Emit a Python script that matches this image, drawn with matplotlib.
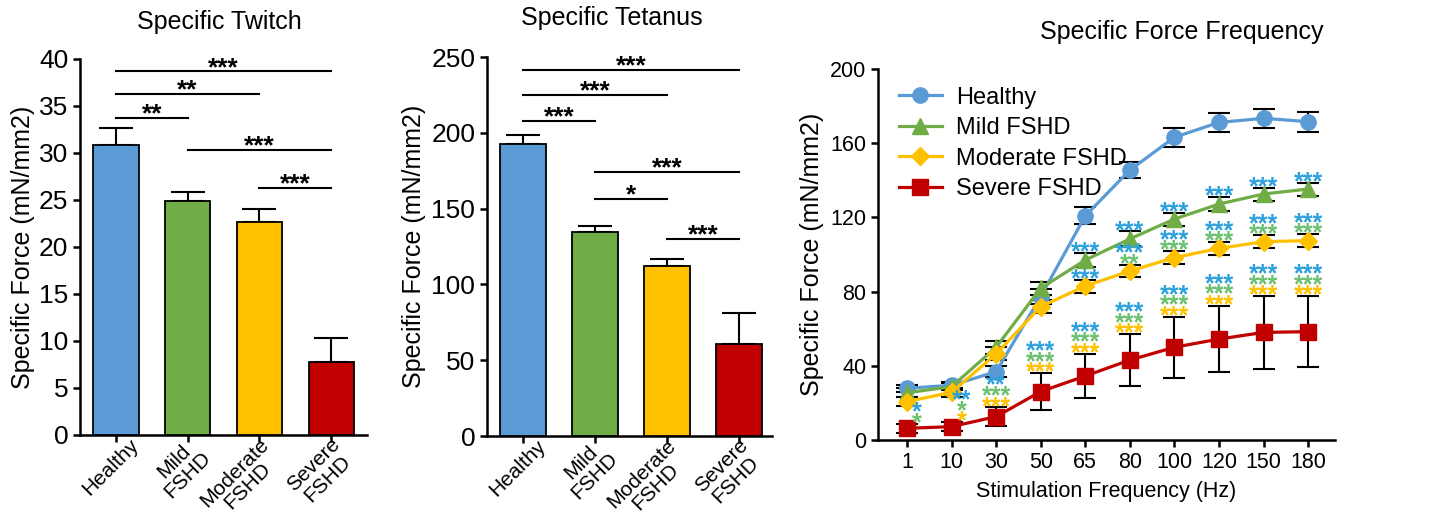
import numpy as np
import matplotlib.pyplot as plt

plt.rcParams['font.family'] = ['Liberation Sans', 'DejaVu Sans']

# --- data ---
groups = ['Healthy', 'Mild\nFSHD', 'Moderate\nFSHD', 'Severe\nFSHD']
colors = ['#5b9bd5', '#70ad47', '#ffc000', '#c00000']

twitch = [30.8, 24.9, 22.7, 7.8]
twitch_err = [1.9, 1.0, 1.3, 2.5]
twitch_pairs = [(0, 3), (0, 2), (0, 1), (1, 3), (2, 3)]
twitch_sig = ['***', '**', '**', '***', '***']

tetanus = [192.5, 134.8, 112.3, 60.8]
tetanus_err = [6.2, 4.0, 4.4, 20.2]
tetanus_pairs = [(0, 3), (0, 2), (0, 1), (1, 3), (1, 2), (2, 3)]
tetanus_sig = ['***', '***', '***', '***', '*', '***']

freqs = ['1', '10', '30', '50', '65', '80', '100', '120', '150', '180']
series_names = ['Healthy', 'Mild FSHD', 'Moderate FSHD', 'Severe FSHD']
healthy = [27.9, 29.5, 36.8, 77.3, 120.8, 145.5, 163.2, 171.2, 173.4, 171.6]
healthy_err = [2.0, 2.0, 3.0, 4.0, 4.6, 4.2, 5.0, 5.0, 5.2, 5.4]
mild = [25.5, 28.7, 50.0, 81.8, 97.0, 108.4, 119.1, 127.2, 132.6, 135.3]
mild_err = [2.5, 2.0, 3.5, 3.5, 4.0, 4.0, 3.5, 3.8, 3.5, 3.5]
moderate = [20.7, 25.7, 46.4, 71.9, 83.0, 91.1, 98.3, 103.3, 106.9, 107.5]
moderate_err = [2.5, 2.5, 3.5, 3.5, 3.5, 3.5, 3.5, 3.5, 3.5, 3.5]
severe = [6.3, 7.2, 12.6, 26.1, 34.5, 43.1, 50.0, 54.4, 58.0, 58.4]
severe_err = [2.5, 2.5, 5.0, 10.0, 12.0, 14.0, 16.5, 18.0, 19.5, 19.2]

# significance vs Healthy / Mild / Moderate
mild_sig = {'Healthy': ['', '', '', '', '***', '***', '***', '***', '***', '***']}
moderate_sig = {'Healthy': ['', '', '', '', '***', '***', '***', '***', '***', '***'],
                'Mild': ['', '', '', '', '', '**', '***', '***', '***', '***']}
severe_sig = {'Healthy': ['*', '**', '**', '***', '***', '***', '***', '***', '***', '***'],
              'Mild': ['*', '*', '***', '***', '***', '***', '***', '***', '***', '***'],
              'Moderate': ['', '*', '***', '***', '***', '***', '***', '***', '***', '***']}
star_colors = {'Healthy': '#2ea1dc', 'Mild': '#6cc070', 'Moderate': '#ffc000'}

fig = plt.figure(figsize=(14.55, 5.23), dpi=100)


def style_axes(ax):
    for s in ['top', 'right']:
        ax.spines[s].set_visible(False)
    for s in ['left', 'bottom']:
        ax.spines[s].set_linewidth(1.8)
    ax.tick_params(width=1.8, length=5)


def bar_panel(ax, vals, errs, pairs, sig, heights, ymax, step, xmax):
    x = np.arange(len(vals))
    ax.errorbar(x, vals, yerr=[np.zeros(len(errs)), errs], fmt='none',
                ecolor='black', elinewidth=1.5, capsize=12, capthick=1.5, zorder=2)
    ax.bar(x, vals, width=0.63, color=colors, edgecolor='black', linewidth=1.3, zorder=3)
    for (a, b), lab, h in zip(pairs, sig, heights):
        ax.plot([a, b], [h, h], color='black', lw=1.5, clip_on=False)
        ax.annotate(lab, ((a + b) / 2, h), xytext=(0, -2.6), textcoords='offset points',
                    ha='center', va='baseline', fontsize=19, fontweight='bold',
                    annotation_clip=False)
    ax.set_ylim(0, ymax)
    ax.set_yticks(np.arange(0, ymax + 1, step))
    ax.set_xlim(-0.5, xmax)
    ax.set_xticks(x)
    ax.set_xticklabels([])
    # rotated group labels, placed by hand so the bounding box corner sits right of the tick
    for xi, g in zip(x, groups):
        ax.annotate(g, (xi, 0), xycoords=('data', 'axes fraction'),
                    xytext=(19, 0), textcoords='offset points',
                    rotation=45, ha='right', va='top', multialignment='center',
                    fontsize=15, linespacing=1.0, annotation_clip=False)
    ax.tick_params(axis='y', labelsize=19)
    ax.set_ylabel('Specific Force (mN/mm2)', fontsize=18)
    style_axes(ax)


ax1 = fig.add_axes([0.055, 0.1683, 0.1973, 0.7189])
bar_panel(ax1, twitch, twitch_err, twitch_pairs, twitch_sig,
          [38.7, 36.3, 33.75, 30.3, 26.3], 40, 5, 3.5)
ax1.yaxis.set_label_coords(-0.158, 0.5)
fig.text(219 / 1455, 1 - 22 / 523, 'Specific Twitch', ha='center', va='center', fontsize=18)

ax2 = fig.add_axes([0.3347, 0.1663, 0.1959, 0.7247])
bar_panel(ax2, tetanus, tetanus_err, tetanus_pairs, tetanus_sig,
          [241.4, 225.0, 207.8, 174.4, 156.3, 130.0], 250, 50, 3.46)
ax2.yaxis.set_label_coords(-0.214, 0.5)
fig.text(612 / 1455, 1 - 18 / 523, 'Specific Tetanus', ha='center', va='center', fontsize=18)

# --- force-frequency panel ---
ax3 = fig.add_axes([0.6034, 0.1587, 0.3141, 0.7094])
xf = np.arange(len(freqs))
series = [healthy, mild, moderate, severe]
series_err = [healthy_err, mild_err, moderate_err, severe_err]
markers = ['o', '^', 'D', 's']
msizes = [11, 12, 9, 12]
for vals, errs, c, m, ms, name in zip(series, series_err, colors, markers, msizes, series_names):
    ax3.errorbar(xf, vals, yerr=errs, fmt='none', ecolor='black', elinewidth=1.5,
                 capsize=8, capthick=1.5, zorder=2)
    ax3.plot(xf, vals, color=c, lw=2.3, marker=m, markersize=ms, label=name, zorder=3)

star_dx = [0.22, 0.22, 0, 0, 0, 0, 0, 0, 0, 0]
for vals, errs, sigs in [(mild, mild_err, mild_sig), (moderate, moderate_err, moderate_sig),
                         (severe, severe_err, severe_sig)]:
    order = [k for k in ['Moderate', 'Mild', 'Healthy'] if k in sigs]
    for i in range(len(freqs)):
        k_row = 0
        for key in order:
            lab = sigs[key][i]
            if not lab:
                continue
            ax3.annotate(lab, (xf[i] + star_dx[i], vals[i] + errs[i]),
                         xytext=(0, -4.7 + 7.6 * k_row), textcoords='offset points',
                         ha='center', va='baseline', fontsize=18, fontweight='bold',
                         color=star_colors[key])
            k_row += 1

ax3.set_xlim(-0.65, 9.6)
ax3.set_ylim(0, 200)
ax3.set_yticks(np.arange(0, 201, 40))
ax3.set_xticks(xf)
ax3.set_xticklabels(freqs)
ax3.tick_params(labelsize=15.5)
ax3.set_xlabel('Stimulation Frequency (Hz)', fontsize=15.5, labelpad=6)
ax3.set_ylabel('Specific Force (mN/mm2)', fontsize=18)
ax3.yaxis.set_label_coords(-0.118, 0.5)
style_axes(ax3)
ax3.legend(loc='upper left', bbox_to_anchor=(0.0, 1.01), frameon=False,
           prop={'size': 17}, handlelength=1.8, handletextpad=0.6, labelspacing=0.36)
fig.text(1182 / 1455, 1 - 32 / 523, 'Specific Force Frequency', ha='center', va='center', fontsize=18)

fig.savefig('out.png', dpi=100)
